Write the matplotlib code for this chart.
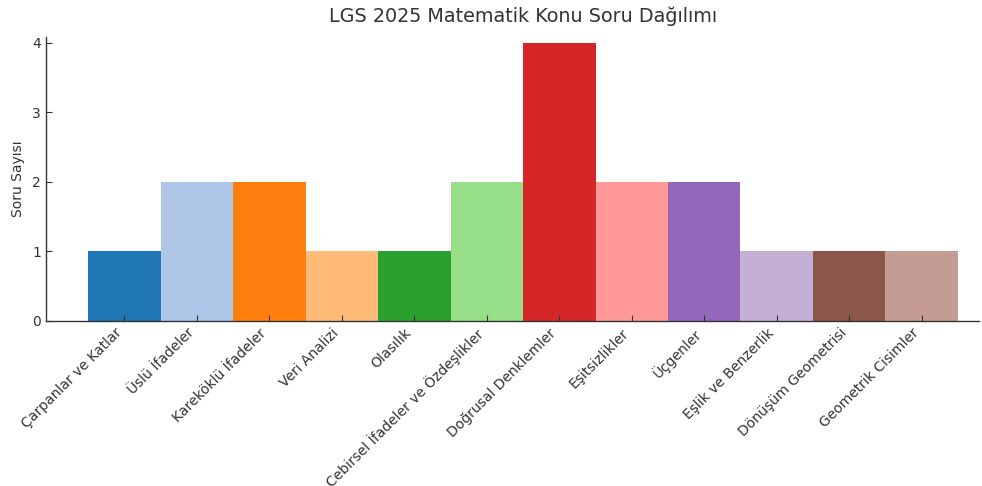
import matplotlib
matplotlib.use("Agg")
import matplotlib.pyplot as plt

categories = ["Çarpanlar ve Katlar", "Üslü İfadeler", "Kareköklü İfadeler", "Veri Analizi",
              "Olasılık", "Cebirsel İfadeler ve Özdeşlikler", "Doğrusal Denklemler",
              "Eşitsizlikler", "Üçgenler", "Eşlik ve Benzerlik", "Dönüşüm Geometrisi",
              "Geometrik Cisimler"]
values = [1, 2, 2, 1, 1, 2, 4, 2, 2, 1, 1, 1]
colors = ["#1f77b4", "#aec7e8", "#ff7f0e", "#ffbb78", "#2ca02c", "#98df8a",
          "#d62728", "#ff9896", "#9467bd", "#c5b0d5", "#8c564b", "#c49c94"]

txt = "#333333"
plt.rcParams['font.family'] = ['DejaVu Sans']

fig = plt.figure(figsize=(9.82, 4.86), dpi=100)
W, H = 982, 486
l, r, t, b = 46, 979, 37, 321
ax = fig.add_axes([l / W, (H - b) / H, (r - l) / W, (b - t) / H])

x = list(range(len(categories)))
ax.bar(x, values, width=1.0, color=colors, linewidth=0)

ax.set_xlim(-1.08, 11.79)
ax.set_ylim(0, 4.086)
ax.set_yticks([0, 1, 2, 3, 4])
ax.set_xticks(x)
ax.set_xticklabels(categories, rotation=45, ha="right", rotation_mode="default",
                   fontsize=10, color=txt)
for lab in ax.get_yticklabels():
    lab.set_fontsize(10)
    lab.set_color(txt)
ax.tick_params(direction="in", length=4, width=0.8, colors="#333333", labelcolor=txt)
ax.spines["top"].set_visible(False)
ax.spines["right"].set_visible(False)
for s in ("left", "bottom"):
    ax.spines[s].set_color("#333333")
    ax.spines[s].set_linewidth(1.0)

ax.set_ylabel("Soru Sayısı", fontsize=10, color=txt, labelpad=5)
ax.set_title("LGS 2025 Matematik Konu Soru Dağılımı", fontsize=13.8, color=txt,
             x=0.511, pad=11)

fig.savefig("out.png", dpi=100)
